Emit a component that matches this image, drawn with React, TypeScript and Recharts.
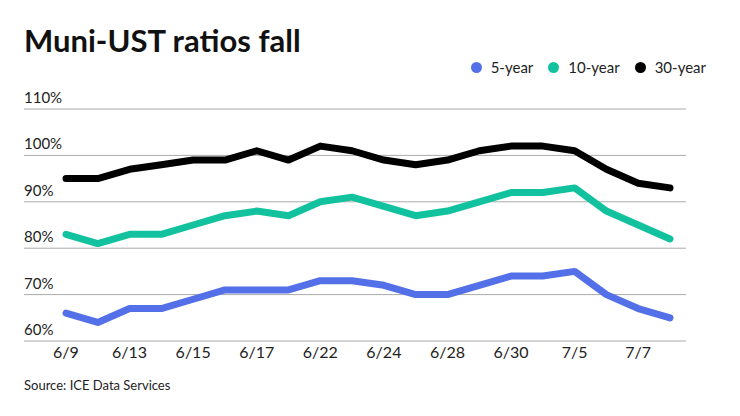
import React from "react";
import { CartesianGrid, Line, LineChart, XAxis, YAxis } from "recharts";

const dates = [
  "6/9", "6/10", "6/13", "6/14", "6/15", "6/16", "6/17", "6/21", "6/22", "6/23",
  "6/24", "6/27", "6/28", "6/29", "6/30", "7/1", "7/5", "7/6", "7/7", "7/8"
];
const fiveYear = [66, 64, 67, 67, 69, 71, 71, 71, 73, 73, 72, 70, 70, 72, 74, 74, 75, 70, 67, 65];
const tenYear = [83, 81, 83, 83, 85, 87, 88, 87, 90, 91, 89, 87, 88, 90, 92, 92, 93, 88, 85, 82];
const thirtyYear = [95, 95, 97, 98, 99, 99, 101, 99, 102, 101, 99, 98, 99, 101, 102, 102, 101, 97, 94, 93];
const yTicks = [60, 70, 80, 90, 100, 110];

const SERIES = [
  { key: "fiveYear", name: "5-year", color: "#5470e8" },
  { key: "tenYear", name: "10-year", color: "#12c29f" },
  { key: "thirtyYear", name: "30-year", color: "#000000" }
];

const FONT = "Lato, 'Open Sans', sans-serif";

const data = dates.map((date, i) => ({
  date,
  fiveYear: fiveYear[i],
  tenYear: tenYear[i],
  thirtyYear: thirtyYear[i]
}));

function YTick(props: any) {
  const { y, payload } = props;
  return (
    <text x={24} y={y - 6} textAnchor="start" fill="#222" fontSize={15} fontFamily={FONT}>
      {payload.value}%
    </text>
  );
}

function ChartLegend() {
  return (
    <div
      style={{
        position: "absolute",
        right: 34,
        top: 57,
        display: "flex",
        fontFamily: FONT,
        fontSize: 15,
        color: "#222",
        lineHeight: "20px"
      }}
    >
      {SERIES.map((s) => (
        <div key={s.key} style={{ display: "flex", alignItems: "center", marginLeft: 15 }}>
          <span
            style={{
              display: "inline-block",
              width: 11,
              height: 11,
              borderRadius: "50%",
              background: s.color,
              marginRight: 9
            }}
          />
          {s.name}
        </div>
      ))}
    </div>
  );
}

export default function App() {
  return (
    <div style={{ position: "absolute", left: 0, top: 0, width: 740, height: 416, background: "#fff" }}>
      <div
        style={{
          position: "absolute",
          left: 24,
          top: 20,
          fontFamily: FONT,
          fontWeight: 700,
          fontSize: 31,
          color: "#111",
          lineHeight: "40px"
        }}
      >
        Muni-UST ratios fall
      </div>
      <ChartLegend />
      <LineChart width={740} height={416} data={data} margin={{ top: 109, right: 54, bottom: 45, left: 0 }}>
        <CartesianGrid vertical={false} stroke="#aaaaaa" />
        <XAxis
          dataKey="date"
          interval={1}
          height={30}
          axisLine={false}
          tickLine={false}
          tickMargin={0}
          padding={{ left: 42, right: 16 }}
          tick={{ fill: "#222", fontSize: 16, fontFamily: FONT }}
        />
        <YAxis
          width={24}
          domain={[60, 110]}
          ticks={yTicks}
          interval={0}
          axisLine={false}
          tickLine={false}
          tick={<YTick />}
        />
        {SERIES.map((s) => (
          <Line
            key={s.key}
            dataKey={s.key}
            name={s.name}
            stroke={s.color}
            strokeWidth={7}
            strokeLinecap="round"
            strokeLinejoin="round"
            dot={false}
            type="linear"
            isAnimationActive={false}
          />
        ))}
      </LineChart>
      <div
        style={{
          position: "absolute",
          left: 24,
          top: 377,
          fontFamily: FONT,
          fontSize: 13,
          color: "#222"
        }}
      >
        Source: ICE Data Services
      </div>
    </div>
  );
}
